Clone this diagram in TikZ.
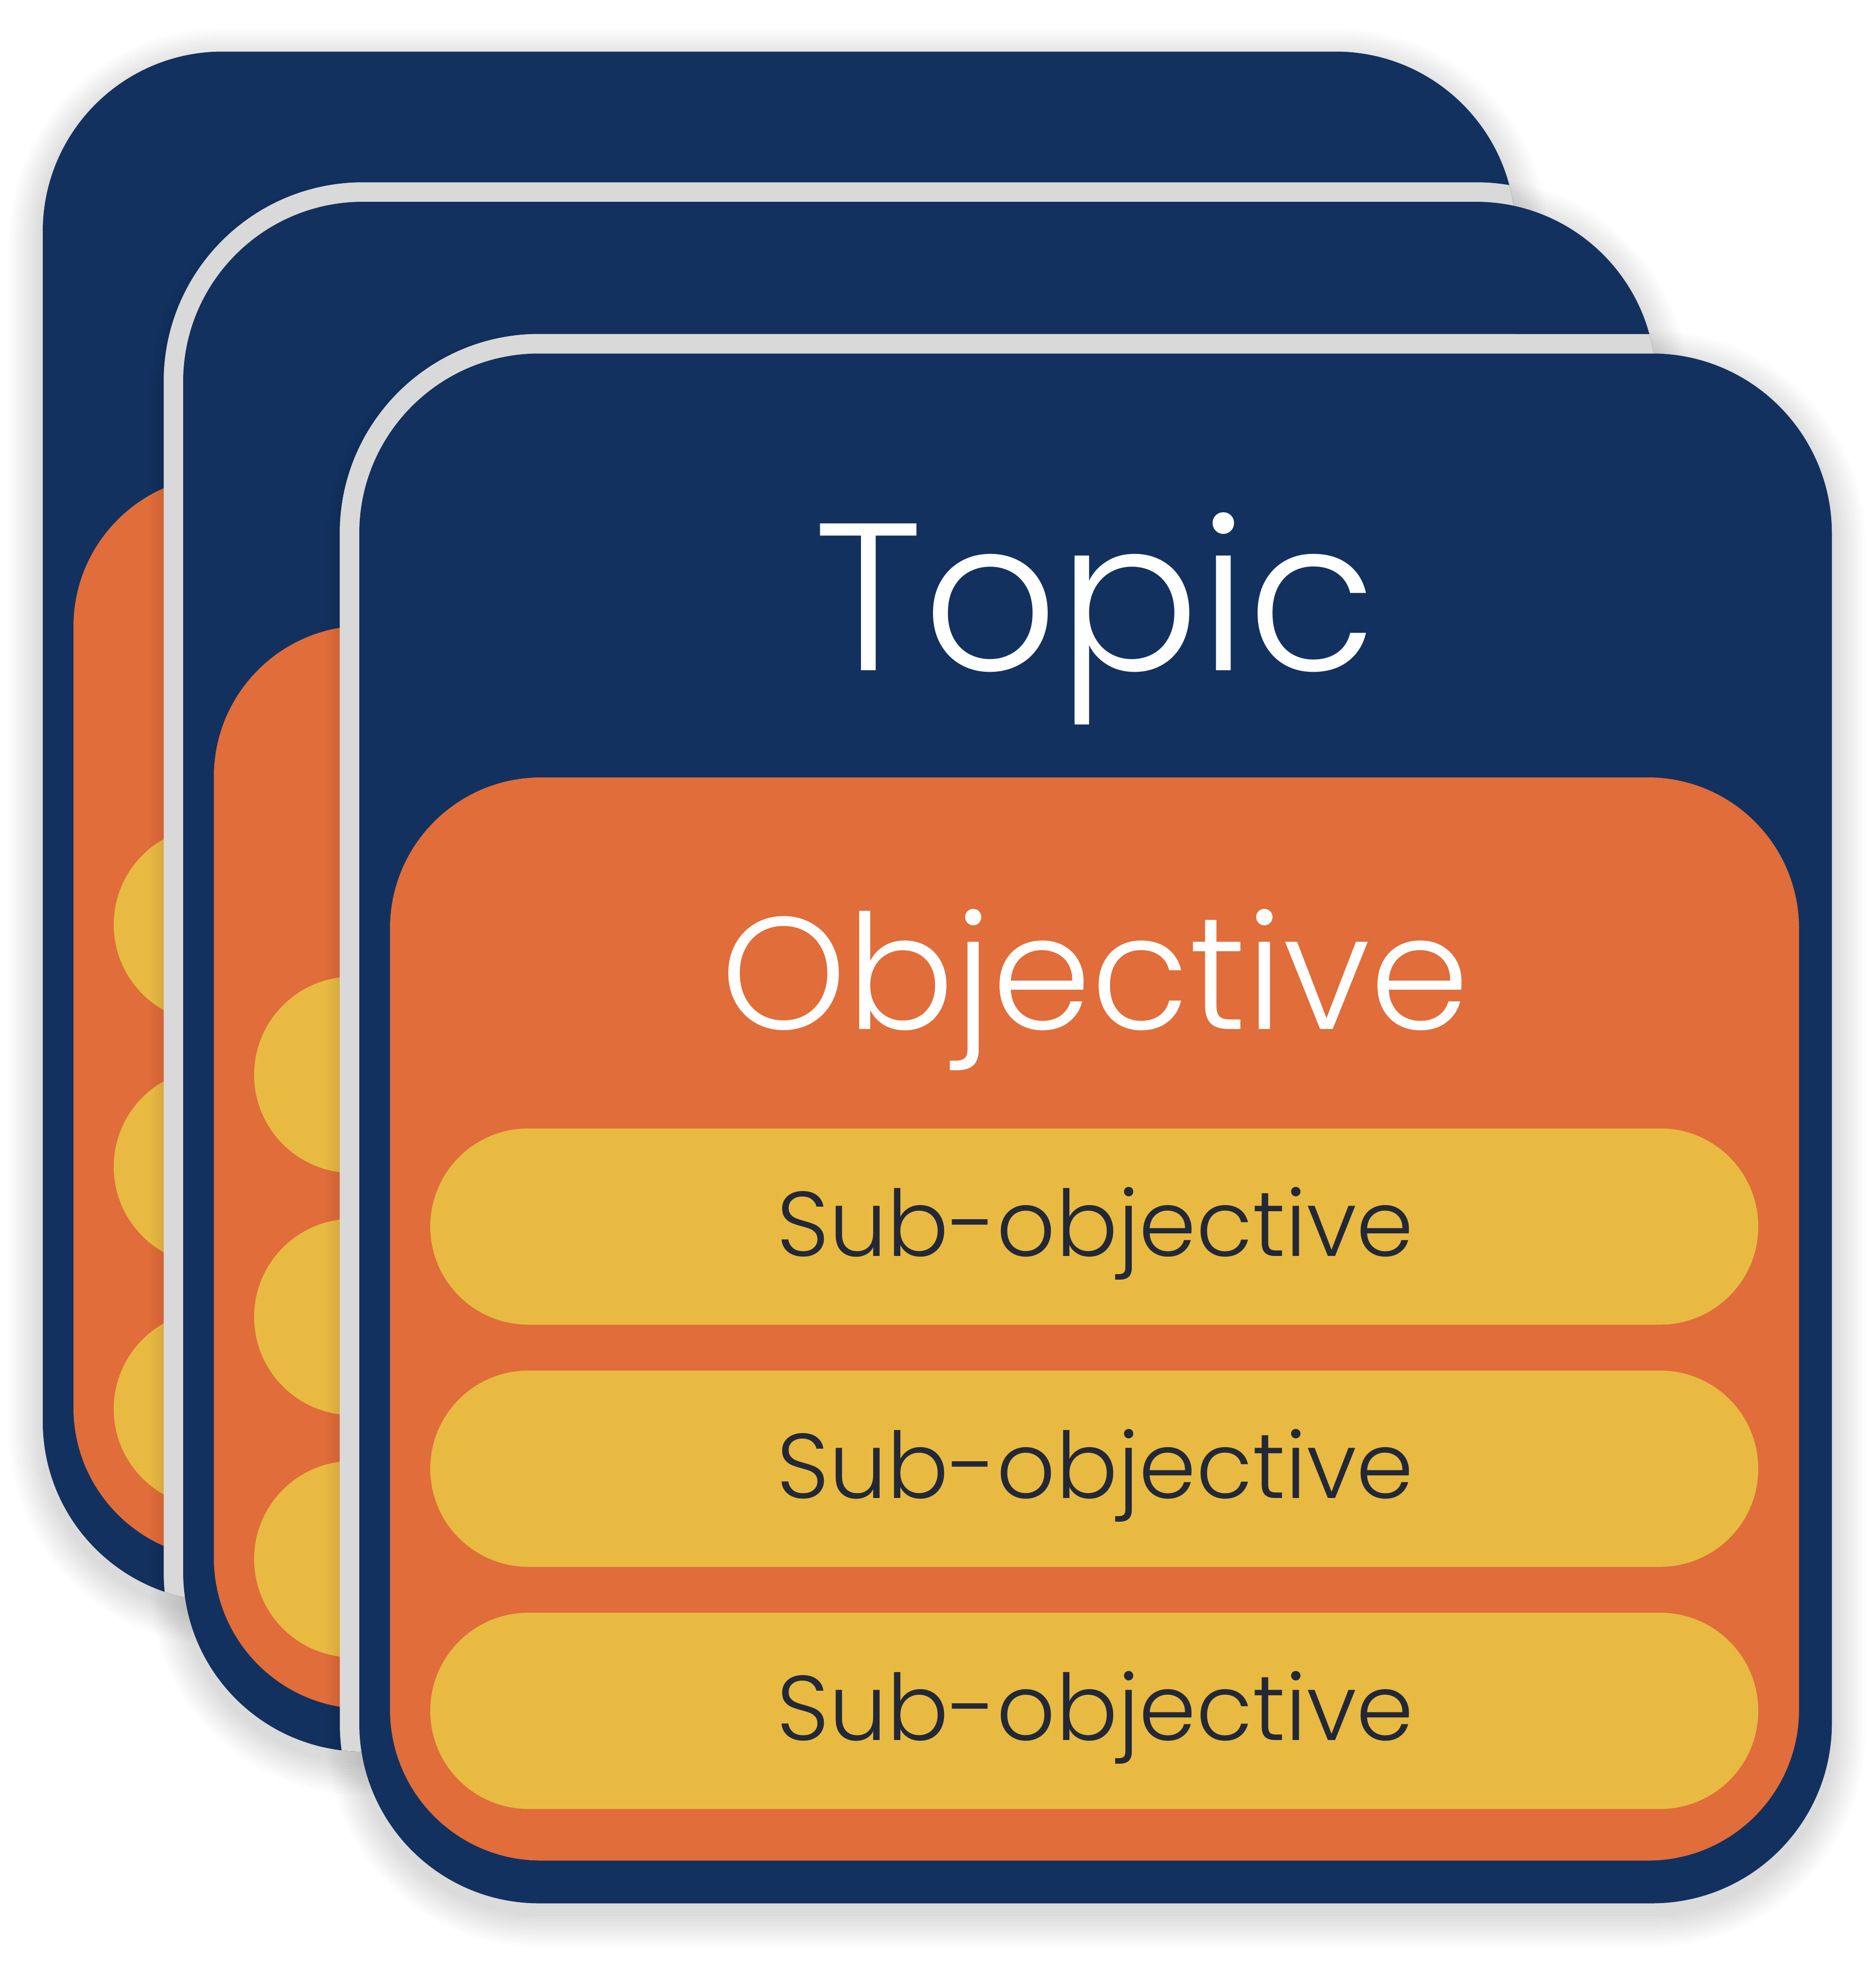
\documentclass[tikz,border=0pt]{standalone}
\usepackage{fontspec}
\newfontfamily\popl{Poppins}[UprightFont={* Light}]
\definecolor{navy}{HTML}{13315F}
\definecolor{orng}{HTML}{E06D3A}
\definecolor{yel}{HTML}{E8BA42}
\definecolor{ink}{HTML}{232837}
\definecolor{bandc}{HTML}{D9D9D9}
\newcommand\cardW{1170.5}
\newcommand\cardH{1232}
% navy body, orange panel, three pills; #1,#2 = top-left of navy body
\newcommand\cardbody[2]{%
  \fill[navy, rounded corners=71.5pt] (#1,#2) rectangle ++(\cardW,\cardH);
  \fill[orng, rounded corners=60pt] (#1+24.4,#2+337) rectangle ++(1120,861);
  \foreach \t in {616,808.5,1001}
    \fill[yel, rounded corners=39pt] (#1+56.4,#2+\t) rectangle ++(1055.6,156);
}
\newcommand\cardshadow[2]{%
  \foreach \k in {1,...,12}
    \fill[black, opacity=0.011, rounded corners={71.5pt+\k*1.1pt}]
      (#1-\k*2.2, #2-\k*2.2+8) rectangle (#1+\cardW+\k*2.2, #2+\cardH+\k*2.2+8);
}
\newcommand\cardclip[2]{\clip[rounded corners=71.5pt] (#1,#2) rectangle ++(\cardW,\cardH);}
\newcommand\cardband[2]{%
  \fill[bandc, rounded corners=79.25pt] (#1-15.5,#2-15.5) rectangle (#1+\cardW+15.5,#2+\cardH+15.5);
}
\tikzset{
  topic/.style={text=white, font=\popl\fontsize{83.5}{90}\selectfont, inner sep=0pt, anchor=base},
  objv/.style={text=white, font=\popl\fontsize{63.5}{70}\selectfont, inner sep=0pt, anchor=base},
  subo/.style={text=ink, font=\popl\fontsize{36.5}{40}\selectfont, inner sep=0pt, anchor=base},
}
\begin{document}
\begin{tikzpicture}[x=0.5pt, y=-0.5pt]
\useasboundingbox (0,0) rectangle (1490.8,1569.2);
% card 1 (back)
\cardshadow{34}{41}
\cardbody{34}{41}
% card 2 (middle)
\cardshadow{145.6}{160.4}
\begin{scope}\cardclip{34}{41}\cardband{145.6}{160.4}\end{scope}
\cardbody{145.6}{160.4}
% card 3 (front)
\cardshadow{285.6}{281}
\begin{scope}\cardclip{34}{41}\cardband{285.6}{281}\end{scope}
\begin{scope}\cardclip{145.6}{160.4}\cardband{285.6}{281}\end{scope}
\cardbody{285.6}{281}
% texts
\node[topic] (topic) at (870.5,533) {Topic};
\node[objv] (objective) at (870.5,818) {Objective};
\node[subo] (sub1) at (870.5,998.5) {Sub-objective};
\node[subo] (sub2) at (870.5,1191) {Sub-objective};
\node[subo] (sub3) at (870.5,1383.5) {Sub-objective};
\end{tikzpicture}
\end{document}
